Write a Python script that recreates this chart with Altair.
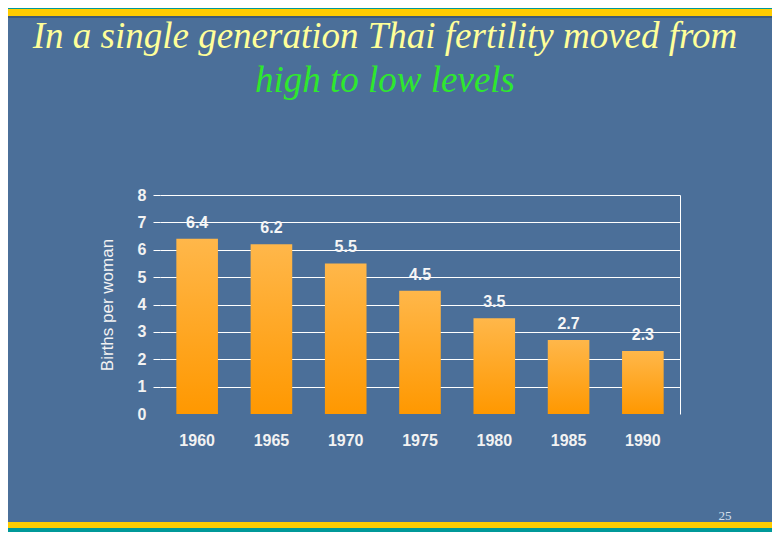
import altair as alt
import pandas as pd

years = ["1960", "1965", "1970", "1975", "1980", "1985", "1990"]
births = [6.4, 6.2, 5.5, 4.5, 3.5, 2.7, 2.3]
y_ticks = [0, 1, 2, 3, 4, 5, 6, 7, 8]

df = pd.DataFrame({"year": years, "births": births})

BG = "#4b6f99"
TXT = "#f2f2f2"
FONT = "Liberation Sans"

x_enc = alt.X("year:N", sort=years,
              scale=alt.Scale(paddingInner=0.44, paddingOuter=0.22),
              axis=alt.Axis(title=None, labelAngle=0, domain=False, ticks=False,
                            labelFont=FONT, labelFontSize=16, labelFontWeight="bold",
                            labelColor=TXT, labelPadding=18))
y_scale = alt.Scale(domain=[0, 8], nice=False)

hide_zero = {"condition": {"test": "datum.value === 0", "value": 0}, "value": 1}

bars = alt.Chart(df).mark_bar(
    color=alt.Gradient(gradient="linear",
                       stops=[alt.GradientStop(color="#ffb74a", offset=0),
                              alt.GradientStop(color="#ff9800", offset=1)],
                       x1=0, x2=0, y1=0, y2=1)
).encode(
    x=x_enc,
    y=alt.Y("births:Q", scale=y_scale,
            axis=alt.Axis(title="Births per woman", values=y_ticks, domain=False,
                          tickColor="white", tickSize=7, labelPadding=7,
                          tickOpacity=hide_zero,
                          labelFont=FONT, labelFontSize=16, labelFontWeight="bold",
                          labelColor=TXT, gridColor="white", gridWidth=1,
                          gridOpacity=hide_zero,
                          titleFont=FONT, titleFontSize=17, titleFontWeight="normal",
                          titleColor=TXT, titlePadding=21)),
)

labels = alt.Chart(df).mark_text(
    font=FONT, fontSize=16, fontWeight="bold", color="#f6f6f6", baseline="middle", dy=-16
).encode(
    x=alt.X("year:N", sort=years),
    y=alt.Y("births:Q", scale=y_scale,
            axis=alt.Axis(orient="right", title=None, labels=False, ticks=False,
                          grid=False, domain=True, domainColor="white", values=y_ticks)),
    text=alt.Text("births:Q", format=".1f"),
)

stripe_x0 = [-152, -152, -152, -152, -152]
stripe_x1 = [612, 612, 612, 612, 612]
stripe_y0 = [-187, -186, -179, 327, 333]
stripe_y1 = [-186, -179, -177, 333, 337]
stripe_c = ["#009999", "#ffcc00", "#3d5a78", "#ffcc00", "#009999"]

stripe_layers = []
for i in range(len(stripe_c)):
    stripe_layers.append(
        alt.Chart(alt.Data(values=[{}])).mark_rect(color=stripe_c[i]).encode(
            x=alt.value(stripe_x0[i]), x2=alt.value(stripe_x1[i]),
            y=alt.value(stripe_y0[i]), y2=alt.value(stripe_y1[i]))
    )

page = alt.Chart(alt.Data(values=[{"t": "25"}])).mark_text(
    font="Liberation Sans Narrow", fontSize=13, color="#d8e0ec"
).encode(x=alt.value(565), y=alt.value(321), text="t:N")

chart = alt.layer(bars, labels, *stripe_layers, page).resolve_axis(
    y="independent"
).properties(
    width=520, height=219,
    autosize=alt.AutoSizeParams(type="none"),
    padding={"left": 152, "top": 187, "right": 92, "bottom": 118},
    background=BG,
    title=alt.TitleParams(
        text="In a single generation Thai fertility moved from",
        subtitle="high to low levels",
        font="Liberation Serif", fontSize=37, fontStyle="italic", fontWeight="normal",
        color="#ffff99",
        subtitleFont="Liberation Serif", subtitleFontSize=37, subtitleFontStyle="italic",
        subtitleColor="#2ee82e", subtitlePadding=7,
        anchor="middle", frame="group", dx=-35, offset=-92,
    ),
).configure_view(stroke=None)

chart.save("out.html", embed_options={"renderer": "svg", "actions": False})
